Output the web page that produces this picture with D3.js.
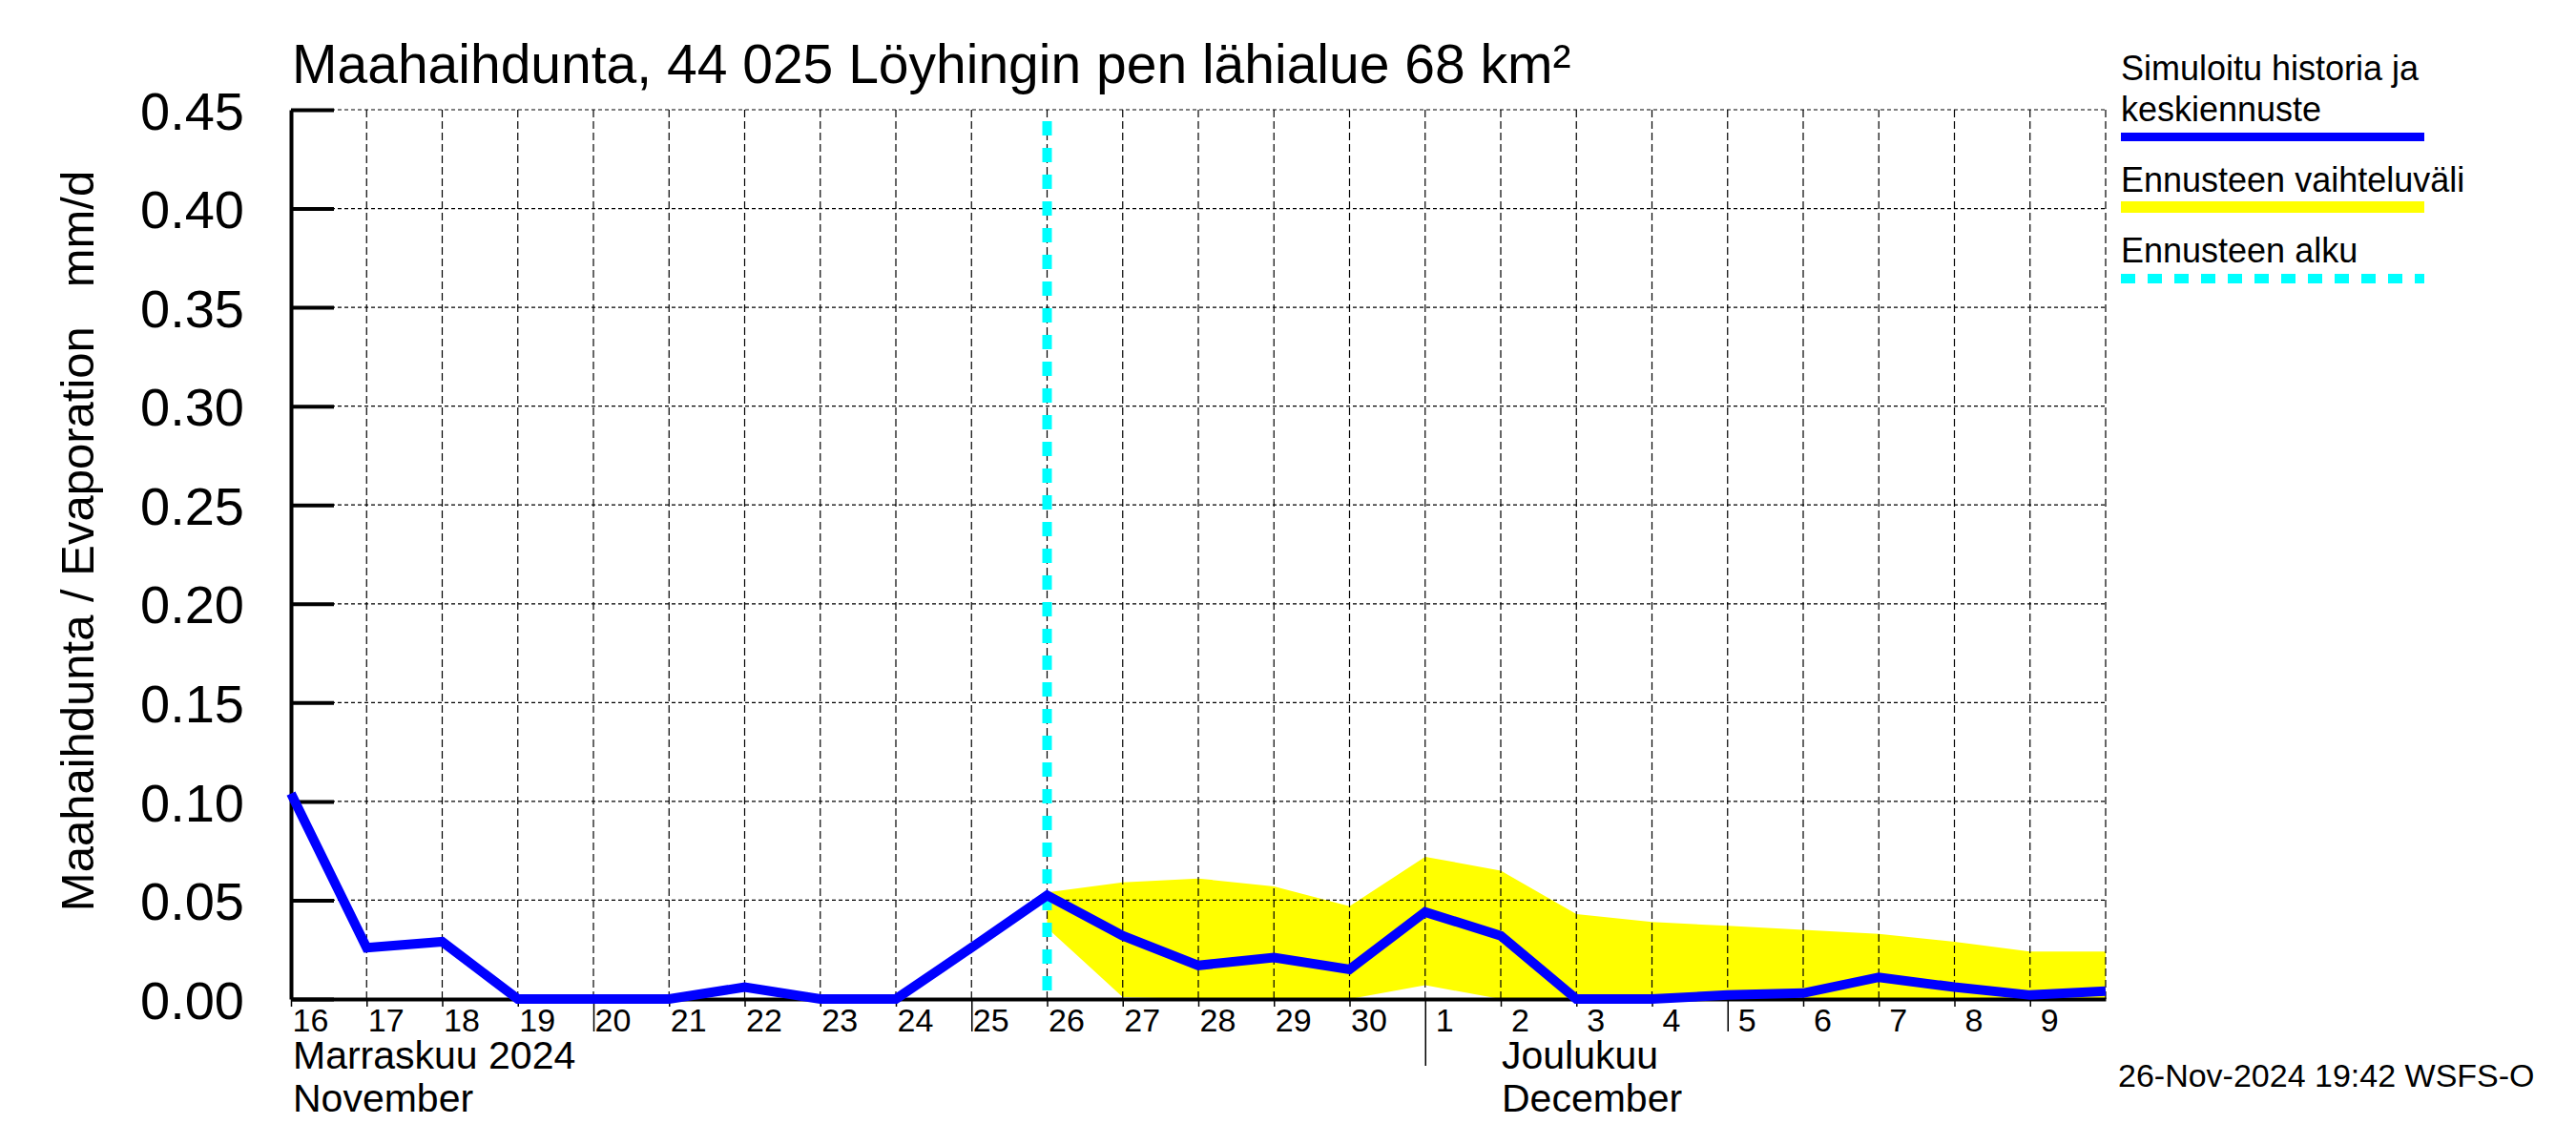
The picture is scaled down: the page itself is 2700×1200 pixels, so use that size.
<!DOCTYPE html>
<html>
<head>
<meta charset="UTF-8">
<title>Maahaihdunta 44 025</title>
<script src="https://d3js.org/d3.v7.min.js"></script>
<style>
    body { margin: 0; background: #fff; }
    text { font-family: "Liberation Sans", Arial, sans-serif; fill: #000; }
</style>
</head>
<body>
<script>
    // days shown on the x axis (Nov 16 .. Dec 10, 2024)
    const days = ["2024-11-16","2024-11-17","2024-11-18","2024-11-19","2024-11-20","2024-11-21",
        "2024-11-22","2024-11-23","2024-11-24","2024-11-25","2024-11-26","2024-11-27","2024-11-28",
        "2024-11-29","2024-11-30","2024-12-01","2024-12-02","2024-12-03","2024-12-04","2024-12-05",
        "2024-12-06","2024-12-07","2024-12-08","2024-12-09","2024-12-10"];
    // simulated history + mean forecast, mm/d
    const simulated = [0.104, 0.026, 0.029, 0, 0, 0, 0.006, 0, 0, 0.026, 0.0525, 0.032, 0.017,
        0.021, 0.015, 0.044, 0.032, 0, 0, 0.002, 0.003, 0.011, 0.006, 0.002, 0.004];
    // forecast range (from Nov 26)
    const bandDays = days.slice(10);
    const bandUpper = [0.054, 0.059, 0.061, 0.057, 0.047, 0.072, 0.065, 0.043, 0.039, 0.037,
        0.035, 0.033, 0.029, 0.024, 0.024];
    const bandLower = [0.036, 0.001, 0, 0, 0, 0.007, 0, 0, 0, 0, 0, 0, 0, 0, 0];
    const forecastStart = "2024-11-26";
    const yTicks = [0, 0.05, 0.10, 0.15, 0.20, 0.25, 0.30, 0.35, 0.40, 0.45];

    const parse = d3.utcParse("%Y-%m-%d");
    const width = 2700, height = 1200;
    const plotL = 305, plotR = 2207, plotT = 115, plotB = 1047;
    const font = '"Liberation Sans", Arial, sans-serif';

    const x = d3.scaleUtc().domain([parse(days[0]), parse(days[days.length - 1])]).range([plotL, plotR]);
    const y = d3.scaleLinear().domain([0, 0.45]).range([plotB, plotT]);

    const svg = d3.select("body").append("svg").attr("width", width).attr("height", height);
    svg.append("rect").attr("width", width).attr("height", height).attr("fill", "#fff");

    // forecast range band
    const band = bandDays.map((d, i) => ({ t: parse(d), lo: bandLower[i], hi: bandUpper[i] }));
    svg.append("path")
        .datum(band)
        .attr("fill", "#ffff00")
        .attr("d", d3.area().x(d => x(d.t)).y0(d => y(d.lo)).y1(d => y(d.hi)));

    // grid
    const grid = svg.append("g").attr("stroke", "#000").attr("stroke-width", 1.2).attr("fill", "none");
    grid.selectAll("line.v").data(days.slice(1)).join("line")
        .attr("class", "v")
        .attr("x1", d => x(parse(d))).attr("x2", d => x(parse(d)))
        .attr("y1", plotT).attr("y2", plotB)
        .attr("stroke-dasharray", "8,4");
    grid.selectAll("line.h").data(yTicks.slice(1)).join("line")
        .attr("class", "h")
        .attr("x1", plotL).attr("x2", plotR)
        .attr("y1", d => y(d)).attr("y2", d => y(d))
        .attr("stroke-dasharray", "4,3");

    // y axis, ticks drawn inward
    const yAxis = svg.append("g")
        .attr("transform", `translate(${plotL},0)`)
        .call(d3.axisLeft(y).tickValues(yTicks).tickFormat(d3.format(".2f"))
            .tickSizeInner(-45).tickSizeOuter(0).tickPadding(49));
    yAxis.select(".domain").attr("stroke-width", 4);
    yAxis.selectAll(".tick line").attr("stroke-width", 4);
    yAxis.selectAll(".tick text").attr("font-size", 56).attr("font-family", font).attr("dy", "0.36em");

    // x axis
    const tickDays = days.slice(0, days.length - 1).map(parse);
    const xAxis = svg.append("g")
        .attr("transform", `translate(0,${plotB})`)
        .call(d3.axisBottom(x).tickValues(tickDays).tickFormat(d3.utcFormat("%-d"))
            .tickSizeInner(8).tickSizeOuter(0).tickPadding(6));
    xAxis.select(".domain").attr("stroke-width", 4);
    xAxis.selectAll(".tick line")
        .attr("stroke-width", 1.5)
        .attr("y2", d => d.getUTCDate() === 1 ? 70 : (d.getUTCDate() % 5 === 0 && d.getUTCDate() !== 30 ? 34 : 8));
    xAxis.selectAll(".tick text")
        .attr("x", 20).attr("y", 10).attr("dy", "0.71em")
        .attr("font-size", 34).attr("font-family", font);

    // month labels
    const months = [
        { t: parse("2024-11-16"), dx: 2, lines: ["Marraskuu 2024", "November"] },
        { t: parse("2024-12-02"), dx: 1, lines: ["Joulukuu", "December"] }
    ];
    months.forEach(m => {
        m.lines.forEach((s, i) => {
            svg.append("text").attr("x", x(m.t) + m.dx).attr("y", 1120 + i * 45)
                .attr("font-size", 41).text(s);
        });
    });

    // forecast start line
    svg.append("line")
        .attr("x1", x(parse(forecastStart))).attr("x2", x(parse(forecastStart)))
        .attr("y1", 127).attr("y2", plotB)
        .attr("stroke", "#00ffff").attr("stroke-width", 10).attr("stroke-dasharray", "15,13");

    // simulated line
    svg.append("path")
        .datum(days.map((d, i) => ({ t: parse(d), v: simulated[i] })))
        .attr("fill", "none").attr("stroke", "#0000ff").attr("stroke-width", 10)
        .attr("stroke-linejoin", "miter")
        .attr("d", d3.line().x(d => x(d.t)).y(d => y(d.v)));

    // title
    svg.append("text").attr("x", 306).attr("y", 87).attr("font-size", 57)
        .text("Maahaihdunta, 44 025 Löyhingin pen lähialue 68 km²");

    // y axis title
    svg.append("text")
        .attr("transform", "translate(98,567) rotate(-90)")
        .attr("text-anchor", "middle").attr("font-size", 49)
        .style("white-space", "pre")
        .text("Maahaihdunta / Evaporation   mm/d");

    // legend
    const lx0 = 2223, lx1 = 2541;
    svg.append("text").attr("x", lx0).attr("y", 84).attr("font-size", 36).text("Simuloitu historia ja");
    svg.append("text").attr("x", lx0).attr("y", 127).attr("font-size", 36).text("keskiennuste");
    svg.append("line").attr("x1", lx0).attr("x2", lx1).attr("y1", 143.5).attr("y2", 143.5)
        .attr("stroke", "#0000ff").attr("stroke-width", 9);
    svg.append("text").attr("x", lx0).attr("y", 201).attr("font-size", 36).text("Ennusteen vaihteluväli");
    svg.append("line").attr("x1", lx0).attr("x2", lx1).attr("y1", 217).attr("y2", 217)
        .attr("stroke", "#ffff00").attr("stroke-width", 12);
    svg.append("text").attr("x", lx0).attr("y", 275).attr("font-size", 36).text("Ennusteen alku");
    svg.append("line").attr("x1", lx0).attr("x2", lx1).attr("y1", 292).attr("y2", 292)
        .attr("stroke", "#00ffff").attr("stroke-width", 10).attr("stroke-dasharray", "15,13");

    // timestamp
    svg.append("text").attr("x", 2220).attr("y", 1139).attr("font-size", 34)
        .text("26-Nov-2024 19:42 WSFS-O");
</script>
</body>
</html>
